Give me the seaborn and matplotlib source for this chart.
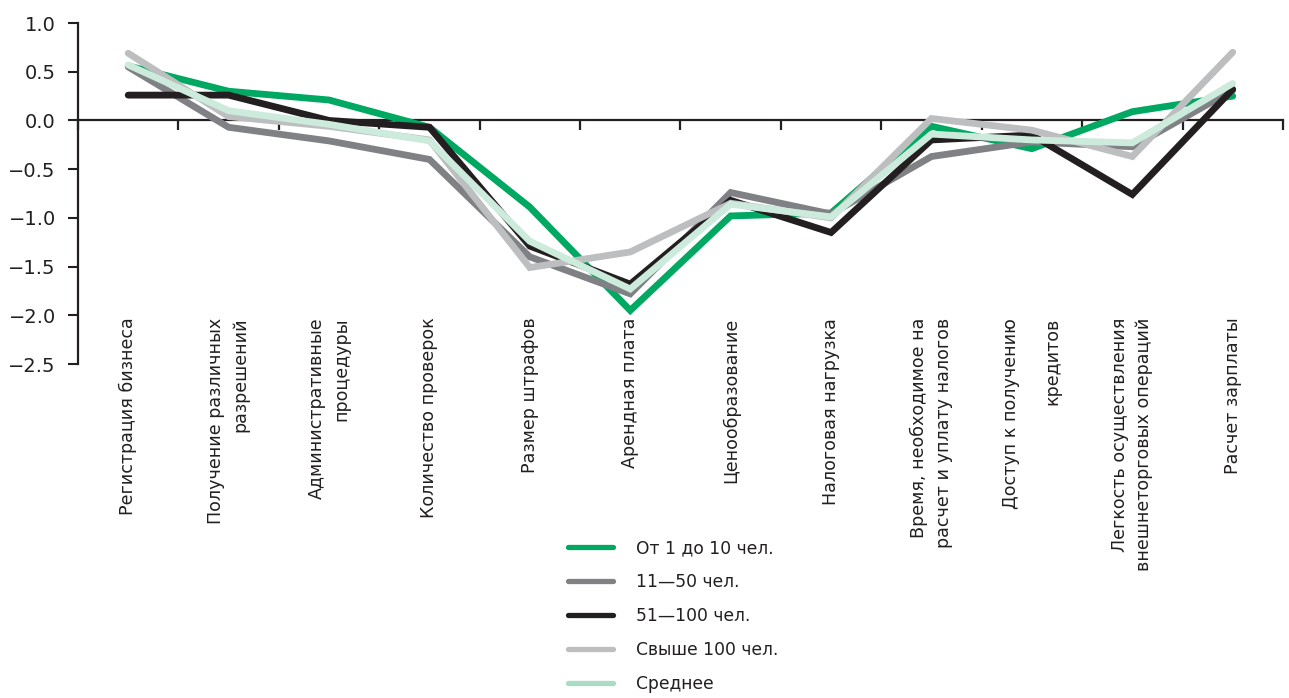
import numpy as np
import pandas as pd
import matplotlib
matplotlib.use("Agg")
import matplotlib.pyplot as plt
from matplotlib.lines import Line2D
from matplotlib.ticker import FuncFormatter
import seaborn as sns

# Business-environment factors
categories = [
    "Регистрация бизнеса",
    "Получение различных\nразрешений",
    "Административные\nпроцедуры",
    "Количество проверок",
    "Размер штрафов",
    "Арендная плата",
    "Ценообразование",
    "Налоговая нагрузка",
    "Время, необходимое на\nрасчет и уплату налогов",
    "Доступ к получению\n\nкредитов",
    "Легкость осуществления\nвнешнеторговых операций",
    "Расчет зарплаты",
]

# Scores by company size
size_1_10 = [0.56, 0.30, 0.21, -0.07, -0.89, -1.95, -0.98, -0.95, -0.06, -0.29, 0.09, 0.25]
size_11_50 = [0.55, -0.07, -0.21, -0.40, -1.40, -1.78, -0.74, -0.96, -0.37, -0.22, -0.27, 0.31]
size_51_100 = [0.26, 0.26, 0.00, -0.07, -1.29, -1.68, -0.82, -1.15, -0.20, -0.15, -0.76, 0.32]
size_100_plus = [0.69, 0.04, -0.06, -0.20, -1.51, -1.35, -0.85, -1.00, 0.02, -0.10, -0.37, 0.70]
average = [0.57, 0.10, -0.04, -0.21, -1.24, -1.73, -0.86, -0.99, -0.14, -0.20, -0.23, 0.38]

series_names = ["От 1 до 10 чел.", "11—50 чел.", "51—100 чел.", "Свыше 100 чел.", "Среднее"]
series_values = [size_1_10, size_11_50, size_51_100, size_100_plus, average]
colors = ["#00A862", "#808184", "#231F20", "#BCBEC0", "#CDEBDC"]
legend_colors = ["#00A862", "#808184", "#231F20", "#BCBEC0", "#A9DCC2"]

df = pd.concat(
    [pd.DataFrame({"factor": categories, "score": vals, "group": name})
     for name, vals in zip(series_names, series_values)],
    ignore_index=True,
)

sns.set_style("white")
plt.rcParams["font.family"] = ["DejaVu Sans"]

fig = plt.figure(figsize=(12.89, 6.98), dpi=100)
ax = fig.add_axes([0.0605, 0.4785, 0.9348, 0.4885])

sns.lineplot(
    data=df, x="factor", y="score", hue="group",
    hue_order=series_names, palette=dict(zip(series_names, colors)),
    estimator=None, sort=False, legend=False, ax=ax,
    linewidth=4.9, solid_capstyle="round", solid_joinstyle="miter", zorder=3,
)

n = len(categories)
ax.set_xlim(-0.5, n - 0.5)
ax.set_ylim(-2.5, 1.0)
ax.set_xlabel("")
ax.set_ylabel("")

# y axis with a long minus sign
ax.set_yticks(np.arange(-2.5, 1.01, 0.5))
ax.yaxis.set_major_formatter(
    FuncFormatter(lambda v, _: f"{v:.1f}".replace("-", "\u2212")))
ax.tick_params(axis="y", which="major", left=True, direction="out",
               length=7, width=1.5, pad=9, labelsize=14, color="#231F20",
               labelcolor="#231F20")

# x axis drawn along zero, with ticks between categories
for side in ("top", "right"):
    ax.spines[side].set_visible(False)
ax.spines["bottom"].set_position(("data", 0))
ax.spines["bottom"].set_zorder(2)
for side in ("left", "bottom"):
    ax.spines[side].set_linewidth(1.6)
    ax.spines[side].set_color("#231F20")

ax.set_xticks(np.arange(n))
ax.set_xticklabels(categories, rotation=90, fontsize=12.6, color="#231F20",
                   linespacing=1.45)
for lbl in ax.get_xticklabels():
    lbl.set_multialignment("right")
    if "\n\n" in lbl.get_text():
        lbl.set_linespacing(1.2)
ax.set_xticks(np.arange(n + 1) - 0.5, minor=True)
ax.tick_params(axis="x", which="major", bottom=True, length=0, pad=142)
ax.tick_params(axis="x", which="minor", bottom=True, direction="out",
               length=7, width=1.6, color="#231F20")

handles = [Line2D([], [], color=c, linewidth=3.8) for c in legend_colors]
fig.legend(handles, series_names, loc="upper left",
           bbox_to_anchor=(0.4407, 0.2275), frameon=False, fontsize=12.3,
           handlelength=2.65, handletextpad=1.3, labelspacing=0.93,
           borderpad=0, borderaxespad=0, labelcolor="#231F20")

fig.savefig("out.png", dpi=100)
